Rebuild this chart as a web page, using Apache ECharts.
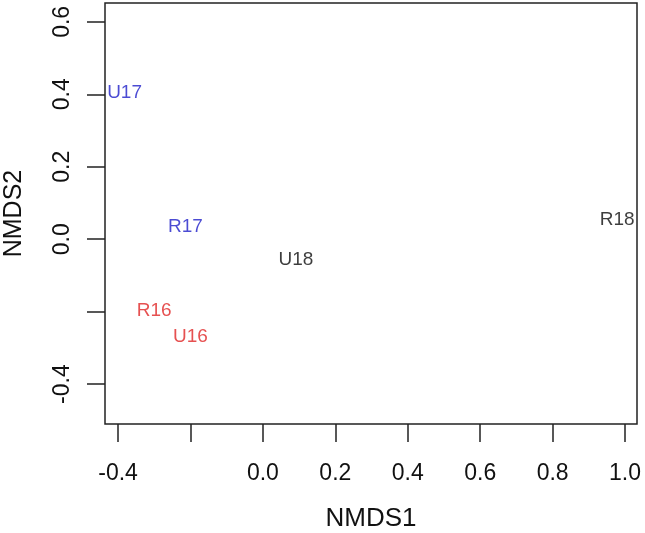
<!DOCTYPE html>
<html>
<head>
<meta charset="utf-8">
<script src="https://cdn.jsdelivr.net/npm/echarts@6/dist/echarts.min.js"></script>
<style>
html,body{margin:0;padding:0;background:#fff;}
#chart{width:645px;height:533px;}
</style>
</head>
<body>
<div id="chart"></div>
<script>
// Sample labels and NMDS coordinates
var names  = ['U17', 'R17', 'U18', 'R16', 'U16', 'R18'];
var nmds1  = [-0.382, -0.214, 0.091, -0.300, -0.200, 0.978];
var nmds2  = [0.404, 0.034, -0.057, -0.198, -0.270, 0.053];
var groups = ['blue', 'blue', 'black', 'red', 'red', 'black'];

var xTicks = [-0.4, -0.2, 0.0, 0.2, 0.4, 0.6, 0.8, 1.0];
var xTickLabels = [-0.4, 0.0, 0.2, 0.4, 0.6, 0.8, 1.0];
var yTicks = [-0.4, -0.2, 0.0, 0.2, 0.4, 0.6];
var yTickLabels = [-0.4, 0.0, 0.2, 0.4, 0.6];

var colors = {blue: '#1e1ec8', red: '#e02626', black: '#0d0d0d'};
var FONT = 'Liberation Sans, Arial, sans-serif';

var seriesList = ['blue', 'red', 'black'].map(function (g) {
  var d = [];
  for (var i = 0; i < names.length; i++) {
    if (groups[i] === g) d.push([nmds1[i], nmds2[i], names[i]]);
  }
  return {
    type: 'scatter',
    data: d,
    symbolSize: 0.01,
    itemStyle: {color: colors[g]},
    label: {
      show: true,
      position: 'inside',
      formatter: function (p) { return p.value[2]; },
      color: colors[g],
      fontFamily: FONT,
      fontSize: 19,
      align: 'center',
      verticalAlign: 'middle'
    },
    silent: true
  };
});

function fmt(v) { return (Math.round(v * 10) / 10).toFixed(1); }

var chart = echarts.init(document.getElementById('chart'), null, {renderer: 'canvas'});
chart.setOption({
  animation: false,
  backgroundColor: '#fff',
  grid: {
    left: 105, right: 8, top: 3, bottom: 109,
    containLabel: false, outerBoundsMode: 'none',
    show: true, borderColor: '#222', borderWidth: 1.5, backgroundColor: 'transparent'
  },
  xAxis: {
    type: 'value',
    min: -0.436, max: 1.033,
    splitLine: {show: false},
    axisLine: {show: false, onZero: false},
    axisTick: {show: true, length: 18, customValues: xTicks, lineStyle: {color: '#222', width: 1.5}},
    axisLabel: {
      show: true, customValues: xTickLabels, margin: 38,
      formatter: fmt, color: '#111', fontSize: 23, fontFamily: FONT
    },
    name: 'NMDS1', nameLocation: 'middle', nameGap: 82,
    nameTextStyle: {color: '#111', fontSize: 26, fontFamily: FONT}
  },
  yAxis: {
    type: 'value',
    min: -0.510, max: 0.652,
    splitLine: {show: false},
    axisLine: {show: false, onZero: false},
    axisTick: {show: true, length: 18, customValues: yTicks, lineStyle: {color: '#222', width: 1.5}},
    axisLabel: {
      show: true, customValues: yTickLabels, margin: 31, rotate: 90,
      formatter: fmt, color: '#111', fontSize: 23, fontFamily: FONT
    },
    name: 'NMDS2', nameLocation: 'middle', nameGap: 78,
    nameTextStyle: {color: '#111', fontSize: 25, fontFamily: FONT}
  },
  series: seriesList
});
</script>
</body>
</html>
